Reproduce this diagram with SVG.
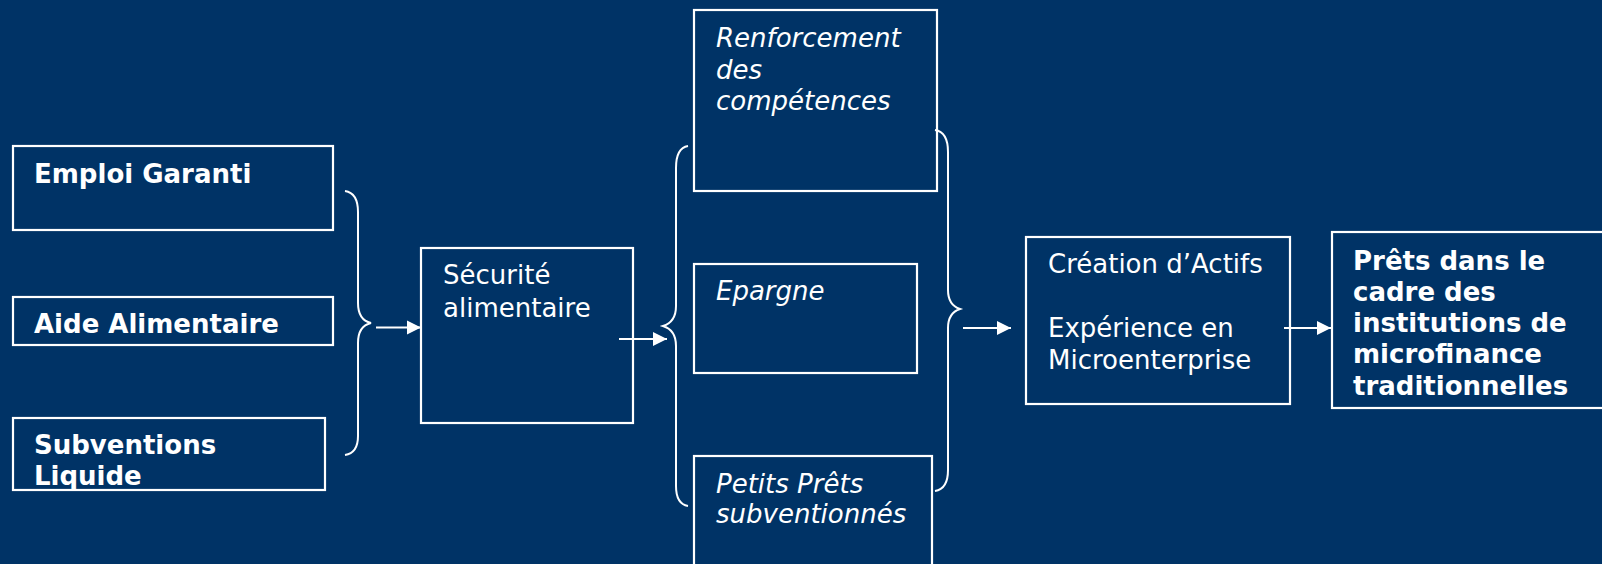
<svg xmlns="http://www.w3.org/2000/svg" width="1602" height="564" viewBox="0 0 1602 564">
<defs>
<style>
.bg{fill:#003366}
.box{fill:none;stroke:#ffffff;stroke-width:2.2}
.t{font-family:"DejaVu Sans","Liberation Sans",sans-serif;font-size:26px;fill:#ffffff}
.b{font-weight:bold}
.i{font-style:italic}
.r{font-size:26px}
.ln{fill:none;stroke:#ffffff;stroke-width:2}
.br{fill:none;stroke:#ffffff;stroke-width:2}
</style>
<marker id="ah" viewBox="0 0 10 10" refX="10" refY="5" markerWidth="14" markerHeight="15" markerUnits="userSpaceOnUse" orient="auto" overflow="visible">
<path d="M0,0 L10,5 L0,10 z" fill="#ffffff"/>
</marker>
</defs>
<rect class="bg" x="0" y="0" width="1602" height="564"/>

<g id="n-emploi">
<rect class="box" x="13" y="146" width="320" height="84"/>
<text class="t b" x="34" y="183">Emploi Garanti</text>
</g>
<g id="n-aide">
<rect class="box" x="13" y="297" width="320" height="48"/>
<text class="t b" x="34" y="333">Aide Alimentaire</text>
</g>
<g id="n-subv">
<rect class="box" x="13" y="418" width="312" height="72"/>
<text class="t b" x="34" y="454">Subventions</text>
<text class="t b" x="34" y="485">Liquide</text>
</g>
<g id="n-securite">
<rect class="box" x="421" y="248" width="212" height="175"/>
<text class="t r" x="443" y="284">Sécurité</text>
<text class="t r" x="443" y="317">alimentaire</text>
</g>
<g id="n-renforcement">
<rect class="box" x="694" y="10" width="243" height="181"/>
<text class="t r i" x="716" y="47">Renforcement</text>
<text class="t r i" x="716" y="79">des</text>
<text class="t r i" x="716" y="110">compétences</text>
</g>
<g id="n-epargne">
<rect class="box" x="694" y="264" width="223" height="109"/>
<text class="t r i" x="716" y="300">Epargne</text>
</g>
<g id="n-petits">
<rect class="box" x="694" y="456" width="238" height="130"/>
<text class="t r i" x="716" y="493">Petits Prêts</text>
<text class="t r i" x="716" y="523">subventionnés</text>
</g>
<g id="n-creation">
<rect class="box" x="1026" y="237" width="264" height="167"/>
<text class="t r" x="1048" y="273">Création d’Actifs</text>
<text class="t r" x="1048" y="337">Expérience en</text>
<text class="t r" x="1048" y="369">Microenterprise</text>
</g>
<g id="n-prets">
<rect class="box" x="1332" y="232" width="290" height="176"/>
<text class="t b" x="1353" y="270">Prêts dans le</text>
<text class="t b" x="1353" y="301">cadre des</text>
<text class="t b" x="1353" y="332">institutions de</text>
<text class="t b" x="1353" y="363">microfinance</text>
<text class="t b" x="1353" y="395">traditionnelles</text>
</g>

<g id="connectors">
<path class="br" d="M345,191 Q358,193 358,212 L358,303 Q358,320 371,323 Q358,326 358,343 L358,436 Q358,453 345,455"/>
<line class="ln" x1="376" y1="327.5" x2="421" y2="327.5" marker-end="url(#ah)"/>
<line class="ln" x1="619" y1="339" x2="667" y2="339" marker-end="url(#ah)"/>
<path class="br" d="M688,146 Q676,148 676,168 L676,306 Q676,322 663,326 Q676,330 676,346 L676,486 Q676,504 688,506"/>
<path class="br" d="M935,130 Q948,132 948,152 L948,290 Q948,305 960,309 Q948,313 948,328 L948,470 Q948,489 935,491"/>
<line class="ln" x1="963" y1="328" x2="1011" y2="328" marker-end="url(#ah)"/>
<line class="ln" x1="1284" y1="328" x2="1331" y2="328" marker-end="url(#ah)"/>
</g>
</svg>
